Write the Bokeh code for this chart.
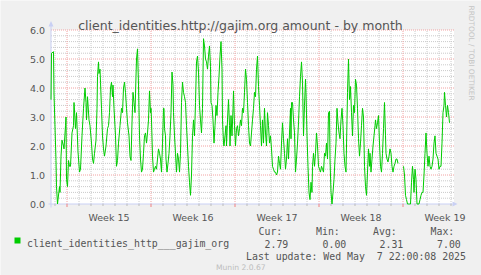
import numpy as np
from bokeh.plotting import figure
from bokeh.models import ColumnDataSource, Range1d, Label, BoxAnnotation
from bokeh.embed import file_html
from bokeh.resources import INLINE

nan = float("nan")

# time axis: hours since the start of the graph window
hours = [
    0, 1, 5, 6, 10, 11, 13, 17, 18, 20,
    22, 25, 26, 29, 30, 31, 33, 35, 37, 39,
    42, 45, 46, 49, 51, 54, 57, 59, 62, 65,
    68, 70, 71, 73, 76, 78, 81, 83, 85, 87,
    90, 92, 93, 95, 96, 98, 99, 101, 103, 105,
    107, 110, 113, 115, 117, 119, 121, 123, 124, 126,
    129, 131, 133, 135, 138, 141, 143, 145, 147, 149,
    151, 153, 156, 158, 160, 162, 164, 166, 168, 170,
    171, 173, 175, 177, 179, 181, 183, 185, 187, 189,
    191, 193, 195, 197, 199, 200, 201, 203, 205, 207,
    209, 211, 213, 215, 217, 219, 221, 223, 225, 226,
    227, 229, 230, 232, 234, 236, 238, 240, 242, 244,
    245, 247, 249, 251, 253, 255, 257, 259, 261, 263,
    265, 267, 269, 271, 273, 275, 277, 279, 281, 283,
    285, 287, 289, 291, 293, 295, 297, 299, 301, 303,
    305, 307, 309, 311, 313, 315, 317, 319, 320, 322,
    324, 326, 328, 330, 332, 334, 336, 338, 340, 342,
    343, 345, 346, 348, 350, 351, 353, 355, 357, 358,
    360, 362, 364, 365, 367, 369, 371, 373, 375, 377,
    379, 381, 383, 385, 387, 389, 391, 393, 395, 397,
    399, 401, 403, 405, 407, 409, 411, 413, 415, 417,
    419, 421, 423, 425, 427, 429, 431, 433, 435, 437,
    439, 441, 443, 445, 447, 449, 451, 453, 455, 457,
    459, 461, 463, 465, 467, 469, 471, 473, 475, 477,
    479, 480, 481, 483, 485, 487, 489, 491, 493, 495,
    497, 499, 501, 503, 505, 507, 509, 510, 512, 514,
    516, 518, 520, 522, 523, 525, 527, 529, 531, 533,
    535, 537, 539, 541, 543, 545, 547, 549, 551, 553,
    555, 557, 558, 560, 562, 564, 566, 568, 570, 572,
    574, 576, 578, 580, 582, 584, 586, 588, 590, 592,
    593, 595, 597, 598, 599, 601, 603, 605, 607, 609,
    611, 613, 615, 617, 619, 621, 623, 625, 627, 629,
    631, 633, 635, 637, 638, 640, 642, 644, 646, 648,
    649, 651, 653, 655, 657, 659, 661, 663, 665, 667,
    669, 670, 672, 674, 676, 678, 680, 682, 684, 686,
    688, 690, 692, 694, 700, 705, 707, 709, 711, 713,
    715, 717, 719, 721, 723, 725, 726, 728, 730, 732,
    734, 736, 738, 740, 742, 744, 746, 748, 750, 752,
    754, 756, 758, 760, 762, 764, 766, 768, 770, 772,
    774, 776, 778, 780, 782, 784, 786, 787, 789, 791,
    793, 795, 797,
]

amount = [
    3.6, 5.2, 5.25, 3.8, 1.5, 0.6, 0.0, 0.6, 0.4, 1.65,
    2.2, 2.0, 1.9, 2.7, 3.0, 0.85, 0.6, 1.5, 1.3, 1.3,
    2.45, 2.7, 3.5, 2.6, 3.15, 1.8, 1.1, 1.2, 2.35, 3.3,
    4.0, 3.5, 2.9, 3.7, 2.9, 2.7, 2.1, 1.55, 1.4, 1.75,
    2.2, 3.3, 4.4, 4.9, 4.5, 4.65, 4.2, 3.3, 2.35, 1.9,
    1.65, 2.0, 2.6, 2.7, 3.15, 4.0, 4.2, 3.7, 4.1, 3.3,
    2.35, 1.3, 1.5, 2.1, 2.7, 3.3, 3.15, 4.0, 4.2, 3.85,
    3.3, 2.8, 2.35, 1.65, 1.5, 2.8, 3.85, 3.5, 3.15, 4.4,
    5.0, 5.35, 4.1, 2.35, 1.55, 1.1, 1.2, 1.75, 2.35, 2.45,
    2.1, 2.45, 2.9, 3.9, 3.15, 3.3, 2.9, 1.65, 1.1, 1.2,
    1.3, 1.2, 1.55, 1.9, 1.75, 1.55, 1.1, 2.1, 3.3, 3.3,
    2.6, 2.35, 1.55, 1.1, 1.4, 1.75, 2.35, 3.15, 4.55, 4.1,
    3.15, 2.35, 1.75, 1.1, 1.75, 1.55, 1.1, 1.75, 3.5, 4.2,
    3.85, 3.7, 3.5, 2.7, 2.0, 1.3, 0.75, 0.3, 1.0, 2.35,
    2.9, 2.35, 3.5, 4.9, 5.1, 4.55, 3.4, 2.9, 2.45, 3.3,
    5.7, 5.45, 5.0, 4.9, 4.65, 5.1, 5.45, 4.75, 3.5, 3.4,
    2.9, 2.1, 2.7, 3.4, 3.05, 3.85, 4.4, 5.1, 5.6, 4.65,
    2.9, 2.1, 2.0, 2.35, 2.7, 2.0, 2.9, 3.6, 2.7, 2.0,
    3.05, 2.35, 3.3, 3.9, 2.7, 2.0, 2.6, 2.7, 2.35, 2.6,
    2.9, 2.7, 3.3, 3.15, 3.85, 4.65, 4.3, 3.5, 2.7, 2.1,
    2.0, 2.45, 2.9, 3.3, 3.85, 3.7, 4.65, 5.1, 4.05, 3.4,
    2.7, 2.0, 2.9, 2.1, 3.3, 2.45, 2.0, 3.15, 2.7, 2.1,
    2.35, 1.9, 1.3, 1.2, 1.1, 1.1, 1.0, 1.1, 1.65, 1.4,
    1.2, 2.1, 2.8, 2.25, 1.75, 1.2, 1.55, 2.25, 1.55, 2.45,
    3.3, 2.25, 3.5, 3.5, 2.9, 2.45, 1.1, 1.55, 2.1, 2.8,
    3.7, 4.4, 4.9, 4.2, 2.35, 3.4, 4.3, 3.85, 2.35, 1.3,
    0.4, 0.15, 0.75, 0.4, 1.3, 1.75, 1.3, 1.75, 2.45, 2.0,
    1.3, 1.2, 1.1, 1.3, 1.2, 1.1, 1.75, 1.65, 2.1, 1.55,
    3.15, 3.2, 1.55, 0.4, 0.0, 0.4, 0.85, 1.55, 2.1, 3.3,
    2.8, 2.45, 2.25, 2.9, 3.3, 2.7, 1.75, 1.3, 1.1, 2.9,
    3.85, 5.0, 3.6, 3.7, 4.05, 3.15, 2.35, 3.4, 3.15, 4.3,
    4.1, 3.3, 2.25, 1.65, 2.1, 2.7, 3.3, 3.0, 1.3, 0.6,
    0.3, 1.1, 1.9, 1.3, 1.75, 1.1, 1.55, 2.0, 2.35, 2.7,
    2.9, 2.6, 2.8, 3.05, 2.1, 1.3, 1.1, 1.75, 2.6, 3.5,
    2.35, 1.75, 1.55, 1.45, 1.65, 1.9, 1.75, 1.3, 1.1, 1.3,
    1.4, 1.55, 1.55, 1.4, nan, 1.3, 1.0, 0.3, 0.15, 0.0,
    0.0, 0.0, 0.0, 0.75, 1.3, 0.85, 0.4, 1.2, 0.85, 0.0,
    0.0, 0.0, 0.15, 0.3, 0.4, 0.4, 1.0, 1.75, 2.45, 1.75,
    1.3, 1.65, 1.3, 1.2, 1.3, 1.55, 2.1, 2.35, 1.75, 1.65,
    1.55, 1.2, 1.3, 1.3, 2.1, 3.15, 3.4, 3.85, 3.4, 3.0,
    3.4, 3.15, 2.8,
]
assert len(hours) == len(amount)

week_names = ["Week 15", "Week 16", "Week 17", "Week 18", "Week 19"]
week_starts = [32, 200, 368, 536, 704]      # hours since window start
y_ticks = [0, 1, 2, 3, 4, 5, 6]
series_name = "client_identities_http___gajim_org"
stat_names = ["Cur:", "Min:", "Avg:", "Max:"]
stat_values = ["2.79", "0.00", "2.31", "7.00"]
title_text = "client_identities.http://gajim.org amount - by month"
# second space kept as a no-break space so the SVG text keeps the double gap
last_update = "Last update: Wed May \u00a07 22:00:08 2025"
footer_text = "Munin 2.0.67"
watermark = "RRDTOOL / TOBI OETIKER"

# ---- layout helpers (page pixel -> data units); the frame covers the whole page ----
W, H = 481, 275


def sx(px):
    return (px - 50.5) * 2.0


def sy(py):
    return (203.5 - py) / 29.0


X_END = sx(453.5)
Y_TOP = y_ticks[-1]

BG = "#F0F0F0"
AXIS = "#C9D0F4"
MGRID = "#F2A2A2"
GRID = "#CACACA"
TXT = "#555555"
GREEN = "#00CC00"

p = figure(width=W, height=H,
           x_range=Range1d(sx(0), sx(W)), y_range=Range1d(sy(H), sy(0)),
           x_axis_type=None, y_axis_type=None,
           output_backend="svg", toolbar_location=None, title=None,
           min_border=0, min_border_left=0, min_border_right=0,
           min_border_top=0, min_border_bottom=0,
           background_fill_color=BG, border_fill_color=BG,
           outline_line_color=None)
p.grid.visible = False

# white canvas
p.add_layout(BoxAnnotation(left=0, right=X_END, bottom=0, top=Y_TOP,
                           fill_color="white", fill_alpha=1.0,
                           line_color=None, level="image"))

# grid lines
day_lines = [d for d in range(week_starts[0] % 24, int(X_END), 24) if d not in week_starts]
minor_y = [i / 5 for i in range(1, Y_TOP * 5) if i % 5]
major_y = [t for t in y_ticks if t > 0]
p.segment(x0=day_lines, x1=day_lines, y0=0, y1=Y_TOP, line_color=GRID,
          line_dash="1 1", line_width=1, level="underlay")
p.segment(x0=0, x1=X_END, y0=minor_y, y1=minor_y, line_color=GRID,
          line_dash="1 1", line_width=1, level="underlay")
p.segment(x0=week_starts, x1=week_starts, y0=0, y1=Y_TOP, line_color=MGRID,
          line_dash="1 1", line_width=1, level="underlay")
p.segment(x0=0, x1=X_END, y0=major_y, y1=major_y, line_color=MGRID,
          line_dash="1 1", line_width=1, level="underlay")

# axis lines, ticks and arrows
p.segment(x0=sx(48), x1=sx(452), y0=0, y1=0, line_color=AXIS, line_width=1, level="underlay")
p.segment(x0=0, x1=0, y0=sy(207), y1=sy(25), line_color=AXIS, line_width=1, level="underlay")
p.segment(x0=day_lines, x1=day_lines, y0=0, y1=sy(205.5), line_color="#BBBBBB", line_width=1)
p.segment(x0=week_starts, x1=week_starts, y0=0, y1=sy(206.5), line_color="#F08080", line_width=1)
p.patch(x=[sx(48), sx(53), sx(50.5)], y=[sy(26), sy(26), sy(20.5)], color=AXIS, line_width=0)
p.patch(x=[sx(452), sx(452), sx(457)], y=[sy(201), sy(206), sy(203.5)], color=AXIS, line_width=0)

# data
src = ColumnDataSource(dict(h=np.array(hours, dtype=float), v=np.array(amount, dtype=float)))
p.line(x="h", y="v", source=src, line_color=GREEN, line_width=1)


def add_text(x, y, text, size, font="DejaVu Sans Mono", color=TXT, align="left", angle=0.0,
             baseline="alphabetic"):
    p.add_layout(Label(x=x, y=y, text=text, text_font=font, text_font_size=size,
                       text_color=color, text_align=align, text_baseline=baseline, angle=angle))


# tick labels
for t in y_ticks:
    add_text(sx(44.5), t, "%.1f" % t, "9.5px", font="DejaVu Sans", align="right", baseline="middle")
for w, name in zip(week_starts, week_names):
    add_text(w + 84, sy(216.5), name, "9.5px", font="DejaVu Sans", align="center")

add_text(sx(240), sy(25), title_text, "12.5px", font="DejaVu Sans", align="center")
add_text(sx(471), sy(5), watermark, "7.4px", font="DejaVu Sans", color="#C4C4C4",
         angle=-np.pi / 2, baseline="middle")

# legend
p.add_layout(BoxAnnotation(left=sx(14), right=sx(20), top=sy(237), bottom=sy(243),
                           fill_color=GREEN, fill_alpha=1.0, line_color=None))
add_text(sx(26.5), sy(243.3), series_name, "9.9px")
head_x = [258, 315.5, 372.5, 430]
val_x = [264, 322, 379, 436.5]
for hx_, name in zip(head_x, stat_names):
    add_text(sx(hx_), sy(230.7), name, "9.9px")
for vx_, val in zip(val_x, stat_values):
    add_text(sx(vx_), sy(243.3), val, "9.9px")
add_text(sx(245.5), sy(255.7), last_update, "9.9px")
add_text(sx(215.5), sy(266.5), footer_text, "7.6px", font="DejaVu Sans", color="#BDBDBD")

open("out.html", "w").write(file_html(p, INLINE))
